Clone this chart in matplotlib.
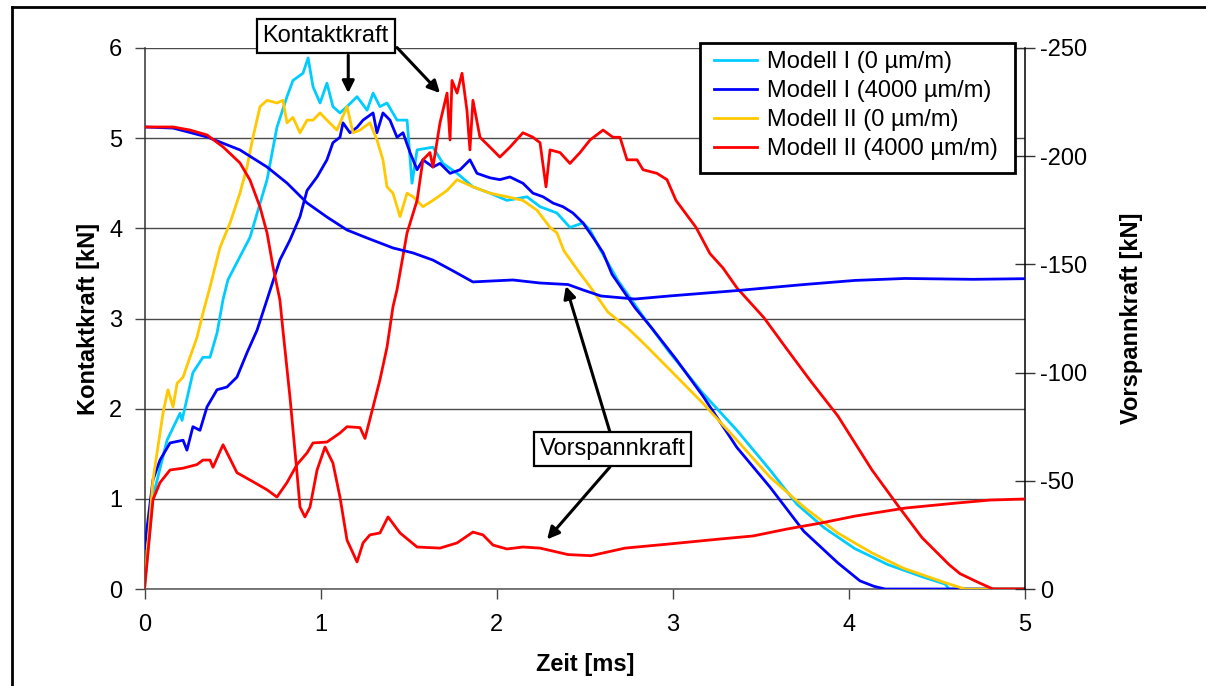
import matplotlib
matplotlib.use("Agg")
import matplotlib.pyplot as plt
from matplotlib.lines import Line2D
from matplotlib.patches import Rectangle

plt.rcParams['font.family'] = ['Liberation Sans', 'DejaVu Sans']
plt.rcParams['axes.unicode_minus'] = False

# ---- Kontaktkraft [kN] over Zeit [ms] ----
t_m1_0 = [0.0, 0.048, 0.128, 0.202, 0.213, 0.275, 0.332, 0.372, 0.412, 0.446, 0.474, 0.599, 0.696,
          0.752, 0.809, 0.843, 0.900, 0.929, 0.957, 0.997, 1.036, 1.070, 1.110, 1.150, 1.207, 1.264,
          1.298, 1.337, 1.377, 1.434, 1.491, 1.519, 1.548, 1.638, 1.695, 1.775, 1.865, 1.962, 2.058,
          2.172, 2.246, 2.342, 2.416, 2.490, 2.530, 2.592, 2.689, 2.825, 2.979, 3.171, 3.364, 3.552,
          3.705, 3.859, 4.032, 4.222, 4.425, 4.546, 4.569, 5.0]
k_m1_0 = [0.0, 1.02, 1.65, 1.95, 1.87, 2.40, 2.57, 2.57, 2.84, 3.21, 3.43, 3.90, 4.54,
          5.12, 5.46, 5.64, 5.72, 5.89, 5.57, 5.39, 5.61, 5.35, 5.28, 5.35, 5.46, 5.31,
          5.50, 5.35, 5.39, 5.20, 5.20, 4.50, 4.87, 4.90, 4.72, 4.61, 4.46, 4.39, 4.31,
          4.35, 4.24, 4.17, 4.01, 4.06, 3.98, 3.75, 3.42, 3.04, 2.63, 2.17, 1.76, 1.32,
          0.94, 0.68, 0.45, 0.27, 0.13, 0.055, 0.0, 0.0]

t_m1_4000 = [0.0, 0.048, 0.088, 0.145, 0.219, 0.241, 0.275, 0.315, 0.355, 0.412, 0.468, 0.525, 0.582,
             0.639, 0.696, 0.769, 0.826, 0.883, 0.923, 0.980, 1.036, 1.070, 1.110, 1.127, 1.167,
             1.207, 1.241, 1.298, 1.320, 1.354, 1.394, 1.434, 1.468, 1.508, 1.548, 1.581, 1.638,
             1.678, 1.735, 1.792, 1.848, 1.888, 1.962, 2.018, 2.075, 2.149, 2.206, 2.263, 2.320,
             2.376, 2.433, 2.490, 2.547, 2.604, 2.655, 2.785, 2.882, 3.018, 3.171, 3.364, 3.552,
             3.744, 3.937, 4.063, 4.142, 4.205, 5.0]
k_m1_4000 = [0.45, 1.21, 1.43, 1.62, 1.65, 1.54, 1.80, 1.76, 2.02, 2.21, 2.24, 2.35, 2.62,
             2.87, 3.21, 3.65, 3.87, 4.13, 4.42, 4.57, 4.76, 4.95, 5.01, 5.17, 5.06,
             5.12, 5.20, 5.28, 5.06, 5.28, 5.20, 5.01, 5.06, 4.84, 4.65, 4.76, 4.68,
             4.72, 4.61, 4.65, 4.76, 4.61, 4.56, 4.54, 4.57, 4.50, 4.39, 4.35, 4.28,
             4.24, 4.17, 4.06, 3.90, 3.73, 3.49, 3.12, 2.89, 2.55, 2.14, 1.57, 1.13,
             0.64, 0.29, 0.09, 0.03, 0.0, 0.0]

t_m2_0 = [0.0, 0.048, 0.105, 0.133, 0.162, 0.185, 0.219, 0.258, 0.298, 0.332, 0.372, 0.429, 0.486,
          0.542, 0.582, 0.616, 0.656, 0.696, 0.752, 0.786, 0.809, 0.843, 0.883, 0.923, 0.957,
          0.997, 1.036, 1.093, 1.150, 1.184, 1.224, 1.280, 1.320, 1.354, 1.377, 1.411, 1.451,
          1.491, 1.525, 1.581, 1.638, 1.718, 1.775, 1.865, 1.962, 2.058, 2.149, 2.229, 2.303,
          2.342, 2.382, 2.462, 2.535, 2.632, 2.746, 2.842, 2.979, 3.171, 3.364, 3.552, 3.744,
          3.937, 4.131, 4.310, 4.458, 4.569, 4.660, 5.0]
k_m2_0 = [0.0, 1.21, 1.95, 2.21, 2.02, 2.28, 2.35, 2.57, 2.79, 3.06, 3.35, 3.79, 4.06,
          4.39, 4.68, 5.01, 5.35, 5.42, 5.39, 5.42, 5.17, 5.23, 5.06, 5.20, 5.20,
          5.28, 5.20, 5.09, 5.35, 5.06, 5.09, 5.17, 4.98, 4.76, 4.46, 4.39, 4.13,
          4.39, 4.35, 4.24, 4.31, 4.42, 4.54, 4.46, 4.39, 4.35, 4.31, 4.20, 4.01,
          3.95, 3.75, 3.53, 3.34, 3.07, 2.89, 2.71, 2.44, 2.06, 1.65, 1.24, 0.91,
          0.62, 0.40, 0.23, 0.13, 0.055, 0.0, 0.0]

t_m2_4000 = [0.0, 0.048, 0.088, 0.145, 0.219, 0.298, 0.332, 0.372, 0.389, 0.446, 0.525, 0.616, 0.696,
             0.752, 0.809, 0.866, 0.923, 0.957, 1.036, 1.110, 1.150, 1.224, 1.252, 1.298, 1.337,
             1.377, 1.411, 1.434, 1.491, 1.548, 1.581, 1.621, 1.638, 1.678, 1.718, 1.735, 1.746,
             1.775, 1.803, 1.831, 1.848, 1.865, 1.905, 1.962, 2.018, 2.075, 2.149, 2.206, 2.246,
             2.280, 2.303, 2.360, 2.416, 2.473, 2.530, 2.604, 2.660, 2.700, 2.740, 2.797, 2.831,
             2.910, 2.967, 3.018, 3.132, 3.211, 3.285, 3.364, 3.517, 3.648, 3.785, 3.937, 4.131,
             4.284, 4.415, 4.569, 4.631, 4.727, 4.818, 5.0]
k_m2_4000 = [0.0, 0.99, 1.18, 1.32, 1.34, 1.38, 1.43, 1.43, 1.35, 1.60, 1.29, 1.19, 1.10,
             1.02, 1.18, 1.38, 1.51, 1.62, 1.63, 1.73, 1.80, 1.79, 1.67, 2.02, 2.32,
             2.68, 3.13, 3.32, 3.95, 4.31, 4.76, 4.84, 4.68, 5.17, 5.50, 4.98, 5.64,
             5.50, 5.72, 5.31, 4.87, 5.42, 5.01, 4.90, 4.79, 4.90, 5.06, 5.01, 4.95,
             4.46, 4.87, 4.84, 4.72, 4.84, 4.98, 5.09, 5.01, 5.01, 4.76, 4.76, 4.65,
             4.61, 4.54, 4.31, 4.01, 3.72, 3.56, 3.34, 3.01, 2.66, 2.30, 1.92, 1.32,
             0.91, 0.57, 0.27, 0.17, 0.08, 0.0, 0.0]

# ---- Vorspannkraft [kN] over Zeit [ms] ----
t_v_m1 = [0.0, 0.162, 0.355, 0.542, 0.696, 0.809, 0.923, 1.036, 1.150, 1.264, 1.411, 1.525, 1.638,
          1.752, 1.865, 1.962, 2.092, 2.246, 2.405, 2.490, 2.592, 2.785, 2.979, 3.364, 3.745,
          4.035, 4.319, 4.705, 5.0]
v_m1 = [-213.5, -213.0, -208.9, -202.9, -195.0, -187.6, -178.4, -171.9, -165.9, -162.2, -157.6,
        -155.3, -152.0, -147.0, -141.9, -142.3, -142.8, -141.4, -140.7, -138.2, -135.4, -134.0,
        -135.4, -137.9, -140.7, -142.6, -143.5, -143.1, -143.4]

t_v_m2 = [0.0, 0.162, 0.258, 0.355, 0.446, 0.542, 0.599, 0.656, 0.696, 0.730, 0.769, 0.786, 0.826,
          0.866, 0.883, 0.911, 0.940, 0.980, 1.025, 1.070, 1.110, 1.150, 1.207, 1.241, 1.280,
          1.337, 1.383, 1.451, 1.548, 1.678, 1.775, 1.865, 1.922, 1.979, 2.058, 2.149, 2.246,
          2.405, 2.535, 2.729, 2.979, 3.268, 3.455, 3.648, 3.842, 4.035, 4.319, 4.609, 4.802, 5.0]
v_m2 = [-213.5, -213.5, -212.1, -209.8, -204.3, -196.9, -189.0, -176.5, -164.5, -148.8, -133.5,
        -119.7, -88.7, -53.6, -37.9, -33.3, -37.9, -55.0, -65.6, -58.2, -42.5, -22.6, -12.5,
        -21.3, -25.0, -25.9, -33.3, -25.9, -19.4, -18.9, -21.3, -26.3, -25.0, -20.3, -18.5,
        -19.4, -18.9, -15.9, -15.4, -18.9, -20.8, -23.1, -24.5, -27.7, -30.5, -33.7, -37.4,
        -39.7, -41.1, -41.6]

series_labels = ["Modell I (0 µm/m)", "Modell I (4000 µm/m)",
                 "Modell II (0 µm/m)", "Modell II (4000 µm/m)"]
x_ticks = [0, 1, 2, 3, 4, 5]
k_ticks = [0, 1, 2, 3, 4, 5, 6]
v_ticks = [0, -50, -100, -150, -200, -250]

c_light = "#00CCFF"
c_blue = "#0000FF"
c_yellow = "#FFC800"
c_red = "#FF0000"
lw = 2.0
fs = 17

W, H = 1206, 686
fig = plt.figure(figsize=(W / 100, H / 100), dpi=100)
fig.patch.set_facecolor("white")

x0, x1, y0, y1 = 144.5, 1025.0, 589.0, 48.0
ax = fig.add_axes([x0 / W, 1 - y0 / H, (x1 - x0) / W, (y0 - y1) / H])
ax2 = ax.twinx()

# primary axis: contact force
h1, = ax.plot(t_m1_0, k_m1_0, color=c_light, lw=lw, zorder=3)
h2, = ax.plot(t_m1_4000, k_m1_4000, color=c_blue, lw=lw, zorder=3)
h3, = ax.plot(t_m2_0, k_m2_0, color=c_yellow, lw=lw, zorder=3)
h4, = ax.plot(t_m2_4000, k_m2_4000, color=c_red, lw=lw, zorder=3)

# secondary axis: preload force
ax2.plot(t_v_m1, v_m1, color=c_blue, lw=lw, zorder=3)
ax2.plot(t_v_m2, v_m2, color=c_red, lw=lw, zorder=3)

ax.set_xlim(0, 5)
ax.set_ylim(0, 6)
ax2.set_ylim(0, -250)
ax.set_xticks(x_ticks)
ax.set_yticks(k_ticks)
ax2.set_yticks(v_ticks)
ax.set_xticklabels([str(v) for v in x_ticks])
ax.set_yticklabels([str(v) for v in k_ticks])
ax2.set_yticklabels([str(v) for v in v_ticks])

ax.yaxis.grid(True, color="#4a4a4a", lw=1.0)
ax.set_axisbelow(True)

for a in (ax, ax2):
    a.patch.set_visible(False)
    a.spines["top"].set_visible(False)
ax.spines["right"].set_visible(False)
ax2.spines["left"].set_visible(False)
ax2.spines["bottom"].set_visible(False)
ax.spines["left"].set_color("#333333")
ax.spines["bottom"].set_color("#555555")
ax2.spines["right"].set_color("black")
for s in ax.spines.values():
    s.set_linewidth(1.1)
ax2.spines["right"].set_linewidth(1.1)

ax.tick_params(axis="y", direction="out", length=7, width=1, color="#444444",
               labelsize=fs, pad=9)
ax.tick_params(axis="x", direction="out", length=7, width=1, color="#444444",
               labelsize=fs, pad=11)
ax2.tick_params(axis="y", direction="inout", length=14, width=1, color="#333333",
                labelsize=fs, pad=4)

ax.set_xlabel("Zeit [ms]", fontsize=fs, fontweight="bold")
ax.set_ylabel("Kontaktkraft [kN]", fontsize=fs, fontweight="bold")
ax2.set_ylabel("Vorspannkraft [kN]", fontsize=fs, fontweight="bold")
ax.xaxis.set_label_coords(0.5, -0.118)
ax.yaxis.set_label_coords(-0.05, 0.5)
ax2.yaxis.set_label_coords(1.108, 0.5)

# legend frame and entries, drawn on the top axes
frame = Rectangle((699.5 / W, 1 - 173 / H), 315 / W, 130 / H,
                  transform=fig.transFigure, fc="white", ec="black",
                  lw=2.0, zorder=9, clip_on=False)
ax2.add_patch(frame)
leg = ax2.legend([h1, h2, h3, h4], series_labels, loc="upper left",
                 bbox_to_anchor=(714 / W, 1 - 51 / H),
                 bbox_transform=fig.transFigure, fontsize=fs, frameon=False,
                 borderpad=0, labelspacing=0.3, handlelength=1.8,
                 handletextpad=0.45, borderaxespad=0)
leg.set_zorder(10)

# annotations
box = dict(boxstyle="square,pad=0.25", fc="white", ec="black", lw=1.6)
arrow = dict(arrowstyle="-|>", color="black", lw=2.2, mutation_scale=18,
             shrinkA=0, shrinkB=0)

ax.text(1.028, 6.133, "Kontaktkraft", fontsize=fs, ha="center", va="center",
        bbox=box, zorder=12, clip_on=False)
ax.annotate("", xy=(1.157, 5.50), xytext=(1.157, 5.92), arrowprops=arrow,
            annotation_clip=False, zorder=11)
ax.annotate("", xy=(1.678, 5.50), xytext=(1.434, 6.005), arrowprops=arrow,
            annotation_clip=False, zorder=11)

ax.text(2.658, 1.55, "Vorspannkraft", fontsize=fs, ha="center", va="center",
        bbox=box, zorder=12)
ax.annotate("", xy=(2.393, 3.36), xytext=(2.643, 1.741), arrowprops=arrow, zorder=11)
ax.annotate("", xy=(2.286, 0.55), xytext=(2.643, 1.353), arrowprops=arrow, zorder=11)

# chart frame
fig.add_artist(Line2D([11.5 / W, 11.5 / W], [0, 1 - 7 / H], color="black", lw=2.0,
                      transform=fig.transFigure))
fig.add_artist(Line2D([11.5 / W, 1.0], [1 - 7 / H, 1 - 7 / H], color="black", lw=2.0,
                      transform=fig.transFigure))

fig.savefig("out.png", dpi=100, facecolor="white")
